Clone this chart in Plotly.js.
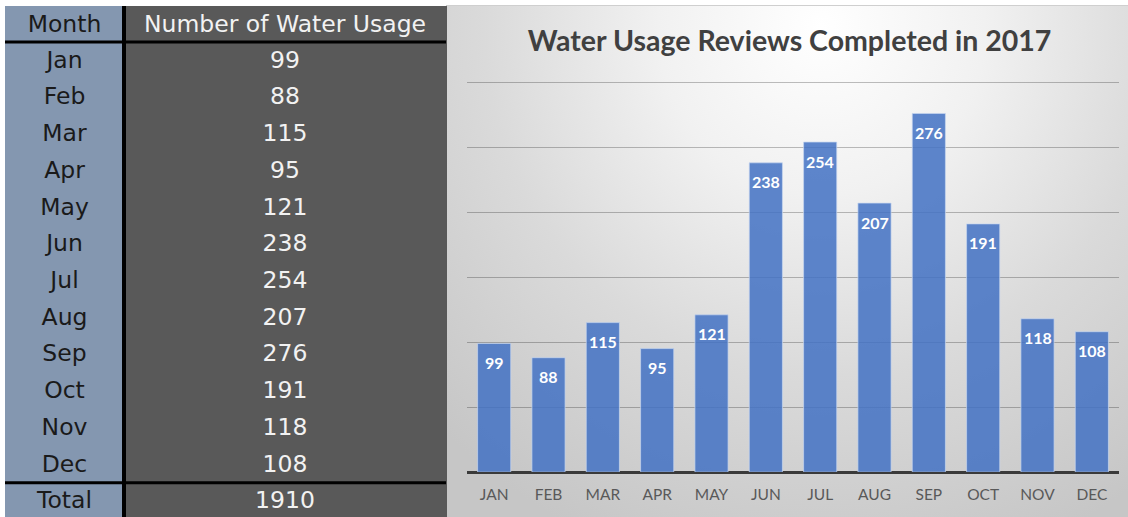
<!DOCTYPE html>
<html>
<head>
<meta charset="utf-8">
<script src="https://cdn.plot.ly/plotly-3.0.1.min.js"></script>
<style>
  html, body { margin: 0; padding: 0; background: #ffffff; overflow: hidden; }
  #wrap { position: relative; width: 1128px; height: 517px; overflow: hidden; }
  #panel {
    position: absolute; left: 446px; top: 5px; width: 682px; height: 512px;
    box-sizing: border-box;
    border-top: 1px solid #cfcfcf; border-left: 1px solid #c4c4c4;
    background: radial-gradient(ellipse 80% 110% at 55% 4%, #ffffff 0%, #f1f1f1 30%, #dadada 62%, #c6c6c6 100%);
  }
  #chart { position: absolute; left: 0; top: 0; width: 1128px; height: 521px; }
</style>
</head>
<body>
<div id="wrap">
  <div id="panel"></div>
  <div id="chart"></div>
</div>
<script>
// ---- data ----
const months = ['Jan','Feb','Mar','Apr','May','Jun','Jul','Aug','Sep','Oct','Nov','Dec'];
const tickLabels = ['JAN','FEB','MAR','APR','MAY','JUN','JUL','AUG','SEP','OCT','NOV','DEC'];
const reviews = [99, 88, 115, 95, 121, 238, 254, 207, 276, 191, 118, 108];
const tableHeader = ['Month', 'Number of Water Usage'];
const totalLabel = 'Total';
const chartTitle = 'Water Usage Reviews Completed in 2017';

const total = reviews.reduce((a, b) => a + b, 0);

// ---- geometry (px; the figure is slightly taller than the visible 517px page) ----
const W = 1128, H = 521;
const TBL_X0 = 5, TBL_X1 = 446, TBL_TOP = 6;
const COL_SPLIT = 124;
const HEADER_H = 36, CELL_H = 36.72;

const px = v => v / W;
const py = v => 1 - v / H;

const tableFont = { family: 'DejaVu Sans, Verdana, sans-serif', size: 23.5, color: ['#1a1a1a', '#f2f2f2'] };

const tableTrace = {
  type: 'table',
  domain: { x: [px(TBL_X0), px(TBL_X1)], y: [0, py(TBL_TOP)] },
  columnwidth: [COL_SPLIT - TBL_X0, TBL_X1 - COL_SPLIT],
  header: {
    values: tableHeader,
    height: HEADER_H,
    align: 'center',
    fill: { color: ['#8497b0', '#595959'] },
    line: { color: ['#8497b0', '#595959'], width: 1 },
    font: tableFont
  },
  cells: {
    values: [months.concat([totalLabel]), reviews.map(String).concat([String(total)])],
    height: CELL_H,
    align: 'center',
    fill: { color: ['#8497b0', '#595959'] },
    line: { color: ['#8497b0', '#595959'], width: 1 },
    font: tableFont
  }
};

const barTrace = {
  type: 'bar',
  x: tickLabels,
  y: reviews,
  marker: { color: 'rgba(68,114,196,0.86)', line: { color: 'rgba(200,215,240,0.7)', width: 1 } },
  hoverinfo: 'x+y'
};

const labelAnnotations = reviews.map((v, i) => ({
  x: tickLabels[i], y: v, xref: 'x', yref: 'y',
  text: String(v), showarrow: false, yanchor: 'middle', yshift: -19,
  font: { family: 'Lato, Open Sans, sans-serif', size: 16, color: '#ffffff', weight: 'bold' }
}));

const lineY1 = TBL_TOP + HEADER_H;
const lineY2 = lineY1 + 12 * CELL_H;
const shapes = [
  { type: 'line', xref: 'paper', yref: 'paper', x0: px(COL_SPLIT), x1: px(COL_SPLIT), y0: 0, y1: py(TBL_TOP), line: { color: '#000000', width: 4 }, layer: 'above' },
  { type: 'line', xref: 'paper', yref: 'paper', x0: px(TBL_X0), x1: px(TBL_X1), y0: py(lineY1), y1: py(lineY1), line: { color: '#000000', width: 3 }, layer: 'above' },
  { type: 'line', xref: 'paper', yref: 'paper', x0: px(TBL_X0), x1: px(TBL_X1), y0: py(lineY2), y1: py(lineY2), line: { color: '#000000', width: 3 }, layer: 'above' }
];

const layout = {
  width: W, height: H,
  margin: { l: 0, r: 0, t: 0, b: 0, pad: 0 },
  paper_bgcolor: 'rgba(0,0,0,0)',
  plot_bgcolor: 'rgba(0,0,0,0)',
  showlegend: false,
  bargap: 0.39,
  title: {
    text: '<b>' + chartTitle + '</b>',
    x: 0.7, xanchor: 'center', xref: 'paper',
    y: py(41), yanchor: 'middle', yref: 'paper',
    font: { family: 'Lato, Open Sans, sans-serif', size: 28.5, color: '#404040' }
  },
  xaxis: {
    domain: [px(467), px(1119)],
    type: 'category',
    showgrid: false, zeroline: false,
    showline: false, ticks: '',
    ticklabelstandoff: 11,
    tickfont: { family: 'Lato, Open Sans, sans-serif', size: 15.5, color: '#595959' }
  },
  yaxis: {
    domain: [py(472), py(81)],
    range: [0, 301], dtick: 50,
    showticklabels: false, ticks: '',
    showgrid: true, gridcolor: 'rgba(0,0,0,0.25)', gridwidth: 1,
    zeroline: true, zerolinecolor: '#3a3a3a', zerolinewidth: 3,
    fixedrange: true
  },
  annotations: labelAnnotations,
  shapes: shapes
};

Plotly.newPlot('chart', [tableTrace, barTrace], layout, { displayModeBar: false, staticPlot: true });
</script>
</body>
</html>
